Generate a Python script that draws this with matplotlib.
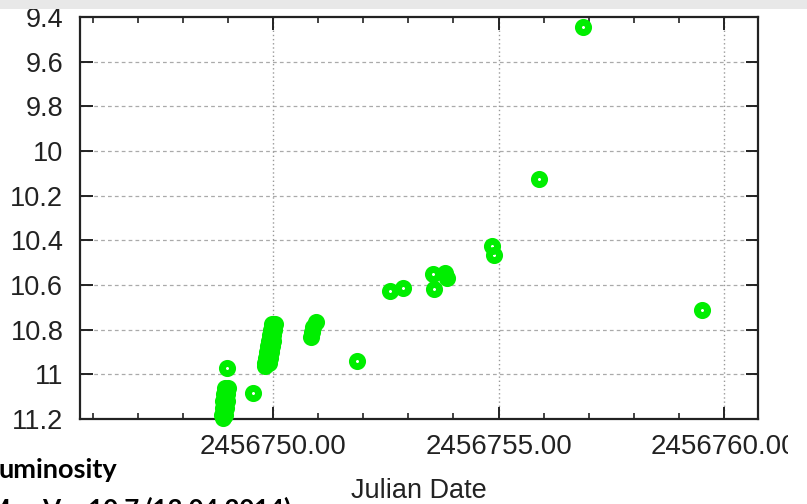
import matplotlib
matplotlib.use("Agg")
import matplotlib.pyplot as plt
from matplotlib.patches import Rectangle

# ---- data (Julian Date, magnitude) ----
jd = [
    # cluster near 2456749
    2456748.930, 2456749.010, 2456748.910, 2456748.990, 2456748.890, 2456748.970,
    2456748.880, 2456748.950, 2456748.870, 2456748.930, 2456748.880,
    2456748.973, 2456749.563,
    # cluster near 2456750
    2456749.970, 2456750.040, 2456749.950, 2456750.030, 2456749.930, 2456750.010,
    2456749.910, 2456749.990, 2456749.890, 2456749.970, 2456749.870, 2456749.950,
    2456749.850, 2456749.930, 2456749.830, 2456749.900, 2456749.820,
    # cluster near 2456751
    2456750.953, 2456750.887, 2456750.865, 2456750.843,
    2456751.863,
    2456752.594, 2456752.889,
    2456753.548, 2456753.814, 2456753.858, 2456753.570,
    2456754.845, 2456754.900,
    2456755.905,
    2456756.867,
    2456759.519,
]
mag = [
    11.060, 11.060, 11.090, 11.090, 11.120, 11.120,
    11.150, 11.150, 11.180, 11.180, 11.195,
    10.972, 11.084,
    10.775, 10.775, 10.800, 10.800, 10.825, 10.825,
    10.850, 10.850, 10.875, 10.875, 10.900, 10.900,
    10.925, 10.925, 10.950, 10.950, 10.962,
    10.765, 10.787, 10.809, 10.832,
    10.939,
    10.629, 10.614,
    10.550, 10.545, 10.568, 10.617,
    10.427, 10.465,
    10.126,
    9.443,
    10.714,
]

x_major = [2456750, 2456755, 2456760]
x_major_labels = ["2456750.00", "2456755.00", "2456760.00"]
x_minor = list(range(2456746, 2456761))
y_ticks = [9.4, 9.6, 9.8, 10.0, 10.2, 10.4, 10.6, 10.8, 11.0, 11.2]
y_labels = ["9.4", "9.6", "9.8", "10", "10.2", "10.4", "10.6", "10.8", "11", "11.2"]

W, H = 807, 504
fig = plt.figure(figsize=(W / 100, H / 100), dpi=100)
fig.patch.set_facecolor("white")

ax = fig.add_axes([80 / W, 1 - 419 / H, (758 - 80) / W, (419 - 17) / H])
ax.set_xlim(2456745.72, 2456760.754)
ax.set_ylim(11.2, 9.4)

ax.plot(jd, mag, linestyle="none", marker="o", markersize=7.3,
        markerfacecolor="none", markeredgecolor="#00ee00",
        markeredgewidth=5.0, clip_on=False, zorder=5)

ax.set_xticks(x_major)
ax.set_xticklabels(x_major_labels)
ax.set_xticks(x_minor, minor=True)
ax.set_yticks(y_ticks)
ax.set_yticklabels(y_labels)

fam = ["Liberation Sans", "DejaVu Sans"]
for lab in ax.get_xticklabels():
    lab.set_fontfamily(fam)
    lab.set_fontsize(20)
    lab.set_color("#222222")
for lab in ax.get_yticklabels():
    lab.set_fontfamily(fam)
    lab.set_fontsize(19.5)
    lab.set_color("#222222")

ax.tick_params(axis="both", which="major", direction="in", length=9, width=1.4,
               color="#222222", top=True, right=True)
ax.tick_params(axis="x", which="minor", direction="in", length=4.5, width=1.2,
               color="#222222", top=True, bottom=True)
ax.tick_params(axis="x", which="major", pad=11)
ax.tick_params(axis="y", which="major", pad=12)

for s in ax.spines.values():
    s.set_linewidth(1.6)
    s.set_color("#222222")

# grid
for yv in y_ticks[1:-1]:
    ax.axhline(yv, color="#aaaaaa", linewidth=0.9, linestyle=(0, (3, 2.5)), zorder=1)
for xv in x_major:
    ax.axvline(xv, color="#999999", linewidth=1.0, linestyle=(0, (1, 2.0)), zorder=1)

ax.set_xlabel("Julian Date", fontfamily=fam, fontsize=19.5, color="#222222")
ax.xaxis.set_label_coords(0.5, -0.178)
ax.xaxis.label.set_va("center")

# top grey band
fig.patches.append(Rectangle((0, 1 - 9 / H), 1, 9 / H, transform=fig.transFigure,
                             facecolor="#e8e8e8", edgecolor="none", zorder=10))
# clipped right edge of the last tick label
fig.patches.append(Rectangle((788 / W, 1 - 470 / H), 1 - 788 / W, 45 / H,
                             transform=fig.transFigure, facecolor="white",
                             edgecolor="none", zorder=10))

fig.text(-1 / W, 1 - 478 / H, "uminosity", fontfamily=["Lato", "DejaVu Sans"],
         fontweight="bold", fontsize=19.5, color="black", va="baseline", ha="left")
fig.text(-14 / W, 1 - 518 / H, "Max V = 10.7 (13.04.2014)", fontfamily=["Lato", "DejaVu Sans"],
         fontweight="bold", fontsize=18.5, color="black", va="baseline", ha="left")

fig.savefig("out.png", dpi=100)
